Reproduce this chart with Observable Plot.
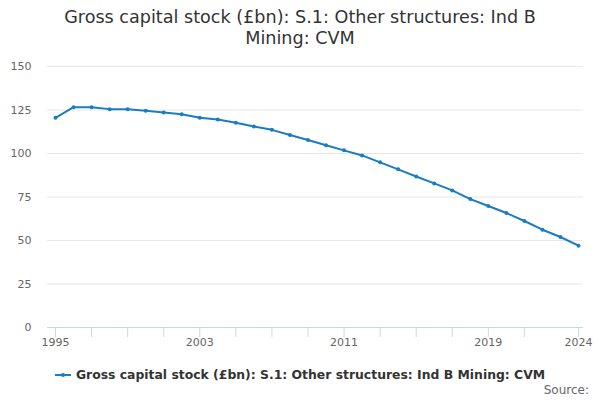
<!DOCTYPE html>
<html>
<head>
<meta charset="utf-8">
<script src="https://cdn.jsdelivr.net/npm/d3@7"></script>
<script src="https://cdn.jsdelivr.net/npm/@observablehq/plot@0.6"></script>
<style>
  body { margin: 0; background: #fff; font-family: "DejaVu Sans", sans-serif; }
  #wrap { position: relative; width: 600px; height: 400px; overflow: hidden; }
  #title { position: absolute; top: 7px; left: 0; width: 600px; text-align: center; font-size: 17.6px; line-height: 21px; color: #333; }
  #chart { position: absolute; top: 50px; left: 0; }
  #legend { position: absolute; top: 366px; left: 0; width: 600px; text-align: center; font-size: 12.4px; font-weight: bold; color: #333; line-height: 18px; }
  #legend svg { vertical-align: middle; margin-right: 5px; position: relative; top: -1px; }
  #source { position: absolute; top: 382px; right: 11px; font-size: 12px; color: #666; line-height: 16px; }
</style>
</head>
<body>
<div id="wrap">
  <div id="title">Gross capital stock (£bn): S.1: Other structures: Ind B<br>Mining: CVM</div>
  <div id="chart"></div>
  <div id="legend"><svg width="16" height="8"><line x1="0" y1="4" x2="16" y2="4" stroke="#1a7cc1" stroke-width="2"/><circle cx="8" cy="4" r="2" fill="#1a7cc1"/></svg>Gross capital stock (£bn): S.1: Other structures: Ind B Mining: CVM</div>
  <div id="source">Source:</div>
</div>
<script>
const years = d3.range(1995, 2025);
const values = [120.5, 126.6, 126.6, 125.5, 125.5, 124.5, 123.6, 122.6, 120.5, 119.6,
                117.7, 115.5, 113.6, 110.6, 107.8, 104.7, 101.8, 98.9, 94.9, 90.9,
                86.8, 82.8, 78.8, 73.8, 69.8, 65.8, 61.2, 56.2, 52.0, 47.0];
const xTicks = [1995, 1997, 1999, 2001, 2003, 2005, 2007, 2009, 2011, 2013, 2015, 2017, 2019, 2021, 2024];
const xLabels = [1995, 2003, 2011, 2019, 2024];
const yTicks = [0, 25, 50, 75, 100, 125, 150];

const data = years.map((y, i) => ({year: y, value: values[i]}));
const color = "#1a7cc1";

const chart = Plot.plot({
  width: 600,
  height: 307,
  marginTop: 16,
  marginBottom: 30,
  marginLeft: 47,
  marginRight: 17,
  style: {fontFamily: "DejaVu Sans, sans-serif", fontSize: "11px", color: "#666", background: "#fff"},
  x: {domain: [1995, 2024], insetLeft: 8, insetRight: 5},
  y: {domain: [0, 150]},
  marks: [
    Plot.gridY(yTicks, {stroke: "#e6e6e6", strokeOpacity: 1}),
    Plot.axisY(yTicks, {tickSize: 0, tickPadding: 16, fill: "#666", fontSize: 11, label: null}),
    Plot.ruleY([0], {stroke: "#ccd6eb"}),
    Plot.axisX(xTicks, {tickSize: 10, tickPadding: 1, stroke: "#ccd6eb", fill: "#666", fontSize: 11,
      tickFormat: d => xLabels.includes(d) ? String(d) : "", label: null}),
    Plot.line(data, {x: "year", y: "value", stroke: color, strokeWidth: 2}),
    Plot.dot(data, {x: "year", y: "value", r: 2, fill: color})
  ]
});
document.getElementById("chart").appendChild(chart);
</script>
</body>
</html>
